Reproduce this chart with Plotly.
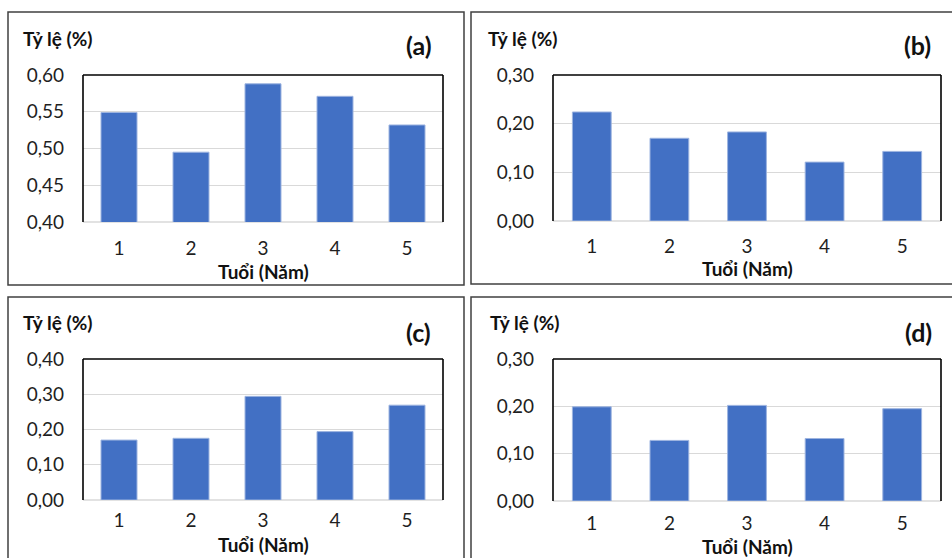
import plotly.graph_objects as go
from plotly.subplots import make_subplots

# Age groups (years)
ages = ["1", "2", "3", "4", "5"]

# Rates (%) by age for each panel
rate_a = [0.549, 0.495, 0.588, 0.571, 0.532]
rate_b = [0.224, 0.170, 0.183, 0.121, 0.143]
rate_c = [0.170, 0.175, 0.294, 0.194, 0.269]
rate_d = [0.199, 0.128, 0.202, 0.132, 0.195]

panel_tags = ["(a)", "(b)", "(c)", "(d)"]
y_ranges = [[0.40, 0.60], [0.0, 0.30], [0.0, 0.40], [0.0, 0.30]]
y_dticks = [0.05, 0.10, 0.10, 0.10]

W, H = 952, 558
FONT = "Lato"
BAR_COLOR = "#4270c4"
BAR_EDGE = "#9db4e0"
GRID = "#d9d9d9"

fig = make_subplots(rows=2, cols=2)

series = [rate_a, rate_b, rate_c, rate_d]
cells = [(1, 1), (1, 2), (2, 1), (2, 2)]
for vals, (r, c) in zip(series, cells):
    fig.add_trace(
        go.Bar(
            x=ages, y=vals,
            marker=dict(color=BAR_COLOR, line=dict(color=BAR_EDGE, width=1)),
            showlegend=False,
        ),
        row=r, col=c,
    )

# plot-area boxes in pixels: (left, top, right, bottom)
plot_px = [
    (83, 75, 443, 222),
    (553, 75, 941, 221),
    (83, 359, 443, 500),
    (553, 359, 941, 501),
]
# outer panel frames in pixels
frame_px = [
    (8, 12, 464, 285),
    (471, 12, 960, 284),
    (8, 297, 464, 570),
    (471, 297, 960, 570),
]
# gap between plot bottom and the age labels
x_standoff = [13, 12, 7, 9]


def px_x(v):
    return v / W


def px_y(v):
    return 1 - v / H


for i, (l, t, rgt, b) in enumerate(plot_px):
    n = "" if i == 0 else str(i + 1)
    fig.layout["xaxis" + n].update(
        domain=[px_x(l), px_x(rgt)],
        showline=False, showgrid=False, zeroline=False, automargin=False,
        ticks="", ticklabelstandoff=x_standoff[i],
        tickfont=dict(family=FONT, size=19, color="#1f1f1f"),
    )
    fig.layout["yaxis" + n].update(
        domain=[px_y(b), px_y(t)],
        range=y_ranges[i], dtick=y_dticks[i], tick0=0,
        tickformat=".2f", automargin=False,
        showline=False, zeroline=False,
        showgrid=True, gridcolor=GRID, gridwidth=1,
        ticks="", ticklabelstandoff=18,
        tickfont=dict(family=FONT, size=19, color="#1f1f1f"),
    )
    xd, yd = "x" + n + " domain", "y" + n + " domain"
    # black frame on top, left and right; light line along the base
    for x0, y0, x1, y1 in [(0, 1, 1, 1), (0, 0, 0, 1), (1, 0, 1, 1)]:
        fig.add_shape(type="line", xref=xd, yref=yd, x0=x0, y0=y0, x1=x1, y1=y1,
                      line=dict(color="black", width=1.6))
    fig.add_shape(type="line", xref=xd, yref=yd, x0=0, y0=0, x1=1, y1=0,
                  line=dict(color=GRID, width=1.5), layer="below")

for (l, t, rgt, b) in frame_px:
    fig.add_shape(type="rect", xref="paper", yref="paper",
                  x0=px_x(l), x1=px_x(rgt), y0=px_y(b), y1=px_y(t),
                  line=dict(color="#404040", width=1.5))

# text positions in pixels
ylabel_pos = [(21, 39), (486, 39), (21, 322), (488, 322)]
tag_pos = [(419, 45), (917, 45), (418, 332), (918, 332)]
xtitle_pos = [(263, 271), (747, 268), (263, 544), (747, 546)]

for i in range(4):
    fig.add_annotation(text="<b>Tỷ lệ (%)</b>", xref="paper", yref="paper",
                       x=px_x(ylabel_pos[i][0]), y=px_y(ylabel_pos[i][1]),
                       xanchor="left", yanchor="middle", showarrow=False,
                       font=dict(family=FONT, size=19, color="#111111"))
    fig.add_annotation(text="<b>" + panel_tags[i] + "</b>", xref="paper", yref="paper",
                       x=px_x(tag_pos[i][0]), y=px_y(tag_pos[i][1]),
                       xanchor="center", yanchor="middle", showarrow=False,
                       font=dict(family=FONT, size=25, color="#111111"))
    fig.add_annotation(text="<b>Tuổi (Năm)</b>", xref="paper", yref="paper",
                       x=px_x(xtitle_pos[i][0]), y=px_y(xtitle_pos[i][1]),
                       xanchor="center", yanchor="middle", showarrow=False,
                       font=dict(family=FONT, size=19, color="#111111"))

fig.update_layout(
    width=W, height=H,
    margin=dict(l=0, r=0, t=0, b=0, autoexpand=False),
    paper_bgcolor="white", plot_bgcolor="white",
    bargap=0.5,
    separators=",.",
    font=dict(family=FONT),
)

fig.write_html("out.html")
